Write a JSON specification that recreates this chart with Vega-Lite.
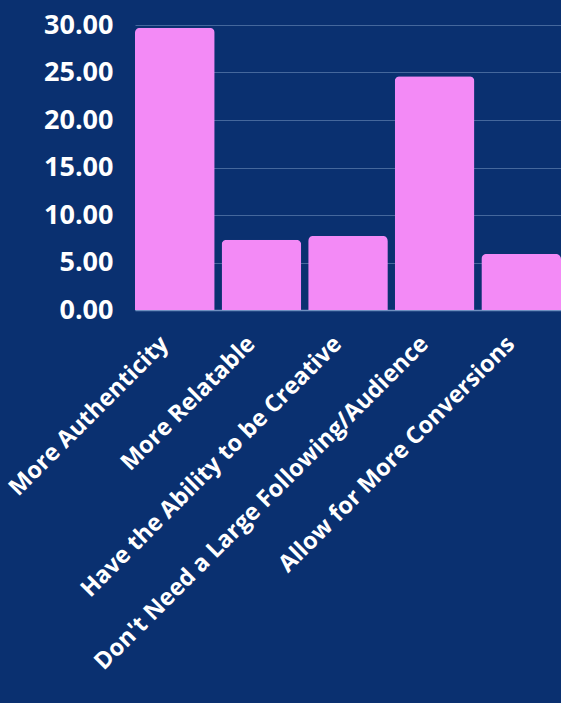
{
  "$schema": "https://vega.github.io/schema/vega-lite/v6.json",
  "autosize": "none",
  "width": 426,
  "height": 285,
  "padding": {"left": 135, "top": 25, "right": 0, "bottom": 393},
  "background": "#0a3070",
  "config": {
    "view": {"stroke": null},
    "font": "Open Sans"
  },
  "data": {
    "values": [
      {"reason": "More Authenticity", "value": 29.7},
      {"reason": "More Relatable", "value": 7.4},
      {"reason": "Have the Ability to be Creative", "value": 7.8},
      {"reason": "Don't Need a Large Following/Audience", "value": 24.6},
      {"reason": "Allow for More Conversions", "value": 5.9}
    ]
  },
  "mark": {"type": "bar", "color": "#f38af6", "cornerRadiusTopLeft": 5, "cornerRadiusTopRight": 5},
  "encoding": {
    "x": {
      "field": "reason",
      "type": "nominal",
      "sort": null,
      "scale": {"paddingInner": 0.08, "paddingOuter": 0},
      "axis": {
        "title": null,
        "labelAngle": -45,
        "labelAlign": "right",
        "labelBaseline": "middle",
        "labelColor": "#ffffff",
        "labelFont": "Open Sans",
        "labelFontWeight": "bold",
        "labelFontSize": 23.5,
        "labelPadding": 30,
        "labelOffset": -10,
        "labelLimit": 700,
        "ticks": false,
        "domainColor": "#6f8fbf",
        "domainWidth": 1.5
      }
    },
    "y": {
      "field": "value",
      "type": "quantitative",
      "scale": {"domain": [0, 30]},
      "axis": {
        "title": null,
        "values": [0, 5, 10, 15, 20, 25, 30],
        "format": ".2f",
        "labelColor": "#ffffff",
        "labelFont": "Open Sans",
        "labelFontWeight": "bold",
        "labelFontSize": 27,
        "labelPadding": 22,
        "ticks": false,
        "domain": false,
        "gridColor": "#45679c",
        "gridWidth": 1
      }
    }
  }
}
